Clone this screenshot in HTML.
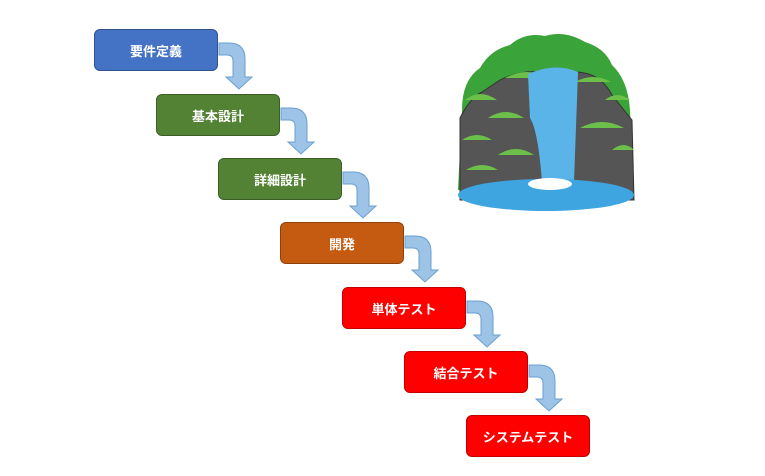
<!DOCTYPE html>
<html><head><meta charset="utf-8"><style>
body{margin:0;background:#fff;width:765px;height:476px;overflow:hidden;position:relative;font-family:"Liberation Sans","Noto Sans CJK JP",sans-serif}
.b{position:absolute;width:124px;height:42px;border-radius:6px;color:#fff;font-weight:bold;font-size:13px;display:flex;align-items:center;justify-content:center;box-sizing:border-box}
.bl{background:#4472c4;border:1px solid #2f528f}
.g{background:#548235;border:1px solid #3b5e25}
.o{background:#c55a11;border:1px solid #8f410c}
.r{background:#ff0000;border:1px solid #c00000}
svg{position:absolute;left:0;top:0}
</style></head><body>
<svg width="765" height="476">
<defs><g id="ar"><path d="M0,0 H10 Q26,0 26,16 V34 H33 L20,46 L7,34 H14 V18 Q14,12 8,12 H0 Z" fill="#9dc3e6" stroke="#6a9fd0" stroke-width="1"/></g></defs>
<use href="#ar" x="219" y="43"/>
<use href="#ar" x="281" y="108"/>
<use href="#ar" x="343" y="172"/>
<use href="#ar" x="405" y="236"/>
<use href="#ar" x="467" y="301"/>
<use href="#ar" x="529" y="365"/>
<!-- waterfall -->
<path d="M462,110 Q462,80 480,68 Q490,50 510,45 Q525,32 545,36 Q565,30 585,42 Q605,48 612,65 Q628,80 630,110 L634,190 L458,190 Z" fill="#3aa33a"/>
<path d="M460,118 Q470,98 482,92 L500,80 Q520,70 540,72 L575,72 Q600,72 612,95 L632,120 L634,200 L460,200 Z" fill="#555555" stroke="#333" stroke-width="1"/>
<path d="M465,100 q15,-12 32,0 z M488,118 q18,-12 36,0z M505,78 q22,-12 44,0z M575,82 q18,-10 36,0z M580,128 q22,-12 44,0z M462,140 q15,-10 30,0z M498,155 q18,-12 36,0z M466,170 q16,-10 32,0z M612,150 q12,-10 22,0z M605,100 q12,-10 25,0z" fill="#6cc04a"/>
<path d="M528,74 Q555,62 578,72 L574,182 L542,182 Q538,130 530,118 Z" fill="#5ab4e8"/>
<ellipse cx="546" cy="195" rx="88" ry="16" fill="#3fa5e0"/>
<ellipse cx="550" cy="184" rx="22" ry="6" fill="#fff"/>
</svg>
<div class="b bl" style="left:94px;top:29px">要件定義</div>
<div class="b g" style="left:156px;top:94px">基本設計</div>
<div class="b g" style="left:218px;top:158px">詳細設計</div>
<div class="b o" style="left:280px;top:222px">開発</div>
<div class="b r" style="left:342px;top:287px">単体テスト</div>
<div class="b r" style="left:404px;top:351px">結合テスト</div>
<div class="b r" style="left:466px;top:415px">システムテスト</div>
</body></html>
